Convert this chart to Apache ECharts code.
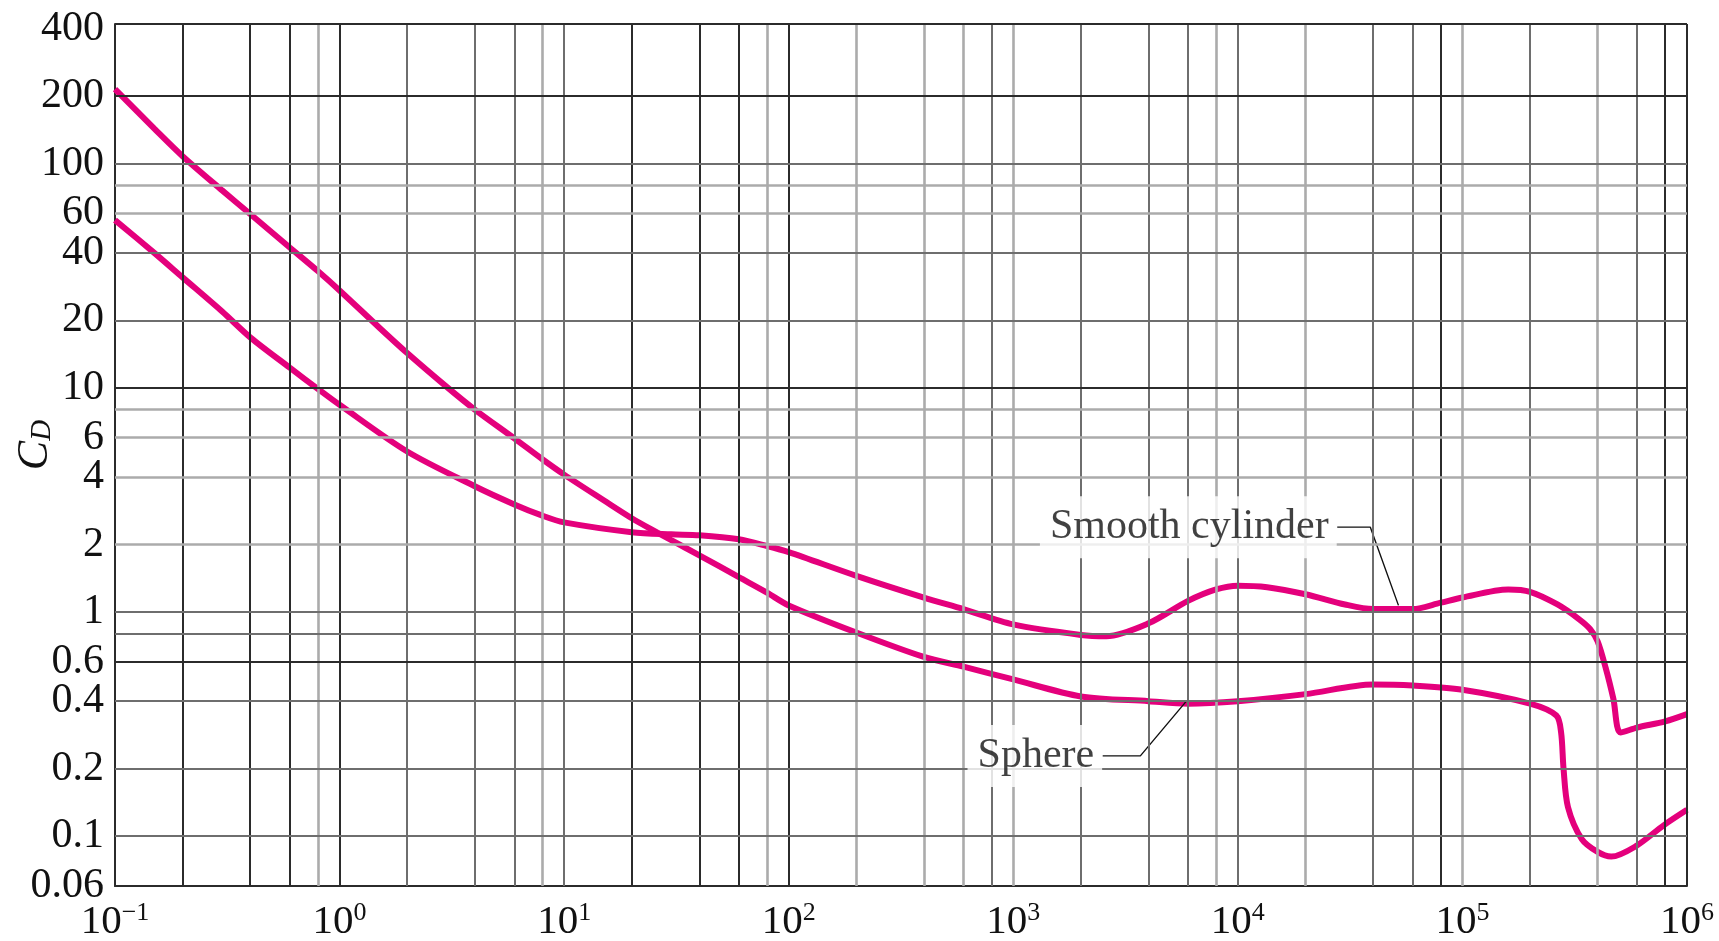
<!DOCTYPE html>
<html><head><meta charset="utf-8">
<script src="https://cdn.jsdelivr.net/npm/echarts@6/dist/echarts.min.js"></script>
<style>html,body{margin:0;padding:0;background:#fff}#c{width:1719px;height:941px}</style>
</head><body><div id="c"></div>
<script>
// ---- data ----
const sphereRe = [0.1,0.15,0.2,0.3,0.4,0.6,0.8,1,1.5,2,3,4,6,8,10,15,20,26,30,40,60,80,100,200,400,600,1000,2000,4000,6000,1e4,2e4,4e4,6e4,1e5,2e5,2.62e5,2.75e5,2.82e5,2.95e5,3.4e5,4e5,4.6e5,5.9e5,7.9e5,1e6];
const sphereCd = [215,143,108,76,59.6,42.3,33.2,27.2,18.6,14.3,10.1,8.0,5.95,4.8,4.1,3.15,2.62,2.26,2.09,1.79,1.43,1.22,1.07,0.81,0.63,0.57,0.5,0.42,0.4,0.39,0.4,0.43,0.475,0.47,0.45,0.39,0.345,0.29,0.2,0.135,0.097,0.085,0.081,0.09,0.112,0.131];
const cylinderRe = [0.1,0.15,0.2,0.3,0.4,0.6,0.8,1,2,4,6,8,10,20,30,40,60,80,100,200,400,600,1000,2000,2600,4000,6000,8000,1e4,1.35e4,2e4,3e4,4e4,6e4,8e4,1e5,1.6e5,2e5,2.65e5,3.3e5,3.7e5,4e5,4.35e5,4.7e5,5.06e5,6e5,8e5,1e6];
const cylinderCd = [56,39.9,31.1,21.9,16.8,12.3,9.9,8.4,5.2,3.64,3.02,2.69,2.51,2.27,2.22,2.2,2.11,1.97,1.85,1.45,1.16,1.03,0.88,0.79,0.78,0.89,1.12,1.26,1.31,1.29,1.2,1.08,1.03,1.03,1.1,1.16,1.26,1.23,1.08,0.93,0.84,0.74,0.56,0.41,0.29,0.305,0.325,0.35];
const yTickLabels = [400,200,100,60,40,20,10,6,4,2,1,0.6,0.4,0.2,0.1,0.06];
const xTickLabels = [0.1,1,10,100,1000,1e4,1e5,1e6];
const xGridValues = [0.2,0.4,0.6,0.8,1,2,4,6,8,10,20,40,60,80,100,200,400,600,800,1000,2000,4000,6000,8000,1e4,2e4,4e4,6e4,8e4,1e5,2e5,4e5,6e5,8e5,1e6];
const xGridShades = ['D','D','D','L','D','M','M','M','L','M','D','D','D','L','D','L','L','L','M','L','M','M','M','L','M','L','M','M','D','L','M','L','M','D','D'];
const yGridValues = [420,200,100,80,60,40,20,10,8,6,4,2,1,0.8,0.6,0.4,0.2,0.1];
const yGridShades = ['D','D','M','L','L','M','M','D','L','L','L','L','M','M','D','M','M','M'];
const cylinderLeaderRe = [2.77e4,3.89e4,5.19e4];
const cylinderLeaderCd = [2.39,2.39,1.07];
const sphereLeaderRe = [2500,3680,5900];
const sphereLeaderCd = [0.228,0.228,0.40];
const annotationNames = ['Smooth cylinder','Sphere'];

// ---- styling ----
const FONT = '"Liberation Serif","DejaVu Serif",serif';
const INK = '#111';
const CURVE = '#e4007c';
const SHADE = {
  D: {color:'#2b2b2b', width:2, type:'solid'},
  M: {color:'#6e6e6e', width:2, type:'solid'},
  L: {color:'#ababab', width:2.6, type:'solid'}
};
const zip = (a,b) => a.map((v,i)=>[v,b[i]]);

const gridLines = [];
xGridValues.forEach((v,i)=>gridLines.push({xAxis:v, lineStyle:SHADE[xGridShades[i]]}));
yGridValues.forEach((v,i)=>gridLines.push({yAxis:v, lineStyle:SHADE[yGridShades[i]]}));

const chart = echarts.init(document.getElementById('c'), null, {renderer:'canvas'});
chart.setOption({
  animation:false,
  backgroundColor:'#fff',
  grid:{left:115, right:32, top:24, bottom:55, containLabel:false, outerBoundsMode:'none'},
  xAxis:{
    type:'log', logBase:10, min:0.0999999, max:1000010,
    axisLine:{show:true, onZero:false, lineStyle:{color:'#2b2b2b', width:2}},
    axisTick:{show:false}, splitLine:{show:false}, minorTick:{show:false}, minorSplitLine:{show:false},
    axisLabel:{
      customValues:xTickLabels, showMinLabel:true, showMaxLabel:true, hideOverlap:false, margin:14,
      formatter:v=>{const e=Math.round(Math.log10(v));return '{b|10}{s|'+(e<0?'\u2212'+(-e):e)+'}';},
      rich:{
        b:{fontSize:41, lineHeight:44, fontFamily:FONT, color:INK},
        s:{fontSize:26, lineHeight:30, verticalAlign:'top', fontFamily:FONT, color:INK}
      }
    }
  },
  yAxis:{
    type:'log', logBase:10, min:0.0599, max:420,
    axisLine:{show:true, onZero:false, lineStyle:{color:'#2b2b2b', width:2}},
    axisTick:{show:false}, splitLine:{show:false}, minorTick:{show:false}, minorSplitLine:{show:false},
    axisLabel:{
      customValues:yTickLabels, showMinLabel:true, showMaxLabel:true, hideOverlap:false, margin:11,
      fontSize:42, lineHeight:42, fontFamily:FONT, color:INK,
      formatter:v=>String(+(+v).toPrecision(4))
    },
    name:'{c|C}{d|D}', nameLocation:'middle', nameRotate:90, nameGap:58, nameMoveOverlap:false,
    nameTextStyle:{
      padding:[0,0,0,20],
      rich:{
        c:{fontSize:44, fontStyle:'italic', fontFamily:FONT, color:INK},
        d:{fontSize:29, fontStyle:'italic', fontFamily:FONT, color:INK, verticalAlign:'bottom'}
      }
    }
  },
  series:[
    {type:'line', name:'grid', data:[], z:1, silent:true,
      markLine:{silent:true, symbol:['none','none'], label:{show:false}, animation:false,
        lineStyle:{type:'solid'}, emphasis:{disabled:true}, data:gridLines}},
    {type:'line', name:'Sphere', data:zip(sphereRe,sphereCd), smooth:0.3,
      symbol:'none', lineStyle:{color:CURVE, width:6}, z:3, silent:true},
    {type:'line', name:'Smooth cylinder', data:zip(cylinderRe,cylinderCd), smooth:0.3,
      symbol:'none', lineStyle:{color:CURVE, width:6}, z:3, silent:true},
    {type:'line', name:'cylLeader', data:zip(cylinderLeaderRe,cylinderLeaderCd), symbol:'none',
      lineStyle:{color:'#111', width:1.4}, z:4, silent:true},
    {type:'line', name:'sphLeader', data:zip(sphereLeaderRe,sphereLeaderCd), symbol:'none',
      lineStyle:{color:'#111', width:1.4}, z:4, silent:true},
    {type:'scatter', name:'labels', z:10, silent:true, symbolSize:1, itemStyle:{color:'rgba(0,0,0,0)'},
      data:[
        {value:[cylinderLeaderRe[0],cylinderLeaderCd[0]], name:annotationNames[0]},
        {value:[sphereLeaderRe[0],sphereLeaderCd[0]], name:annotationNames[1]}
      ],
      label:{show:true, position:'left', distance:0, formatter:p=>p.name,
        fontSize:42, fontFamily:FONT, color:INK, backgroundColor:'#fff', padding:[10,8,10,10]}}
  ]
});
</script></body></html>
